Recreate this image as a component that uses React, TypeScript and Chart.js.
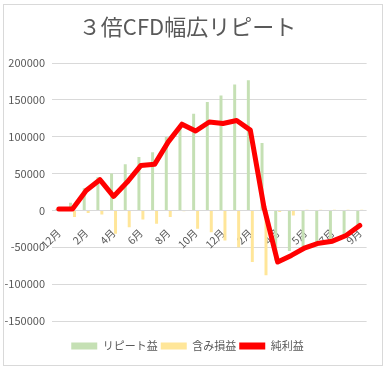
import React, { useEffect, useRef } from 'react';
import { Chart, registerables } from 'chart.js';

Chart.register(...registerables);

const categories = ['12月', '1月', '2月', '3月', '4月', '5月', '6月', '7月', '8月', '9月', '10月', '11月', '12月', '1月', '2月', '3月', '4月', '4月', '5月', '6月', '7月', '8月', '9月'];
const repeatProfit = [2000, 10500, 30000, 45000, 50000, 62500, 72500, 79000, 99600, 114000, 131000, 147000, 156000, 171000, 176600, 91500, -68000, -55000, -51000, -45000, -43000, -35000, -21000];
const unrealizedPL = [0, -9000, -3600, -5400, -31700, -22700, -12300, -18000, -9000, -1000, -25000, -29500, -40800, -50000, -70000, -88000, -2000, -7000, 1000, 1000, 1000, 1000, 1000];
const netProfit = [2000, 2000, 27000, 41700, 19000, 38500, 61000, 62500, 93000, 117000, 107700, 120000, 118000, 122000, 109000, 4000, -70000, -61000, -50700, -44400, -41700, -34000, -20400];
const yMin = -150000;
const yMax = 200000;
const yStep = 50000;

const FONT = '"Noto Sans CJK JP", "Noto Sans", sans-serif';
const TEXT = '#595959';

export default function App() {
  const ref = useRef<HTMLCanvasElement>(null);
  useEffect(() => {
    const chart = new Chart(ref.current as HTMLCanvasElement, {
      type: 'bar',
      data: {
        labels: categories,
        datasets: [
          { type: 'bar', label: 'リピート益', data: repeatProfit, backgroundColor: '#c5e0b4', order: 1, barPercentage: 0.75, categoryPercentage: 0.58 },
          { type: 'bar', label: '含み損益', data: unrealizedPL, backgroundColor: '#ffe699', order: 1, barPercentage: 0.75, categoryPercentage: 0.58 },
          { type: 'line', label: '純利益', data: netProfit, borderColor: '#ff0000', backgroundColor: '#ff0000', borderWidth: 5, pointRadius: 0, tension: 0, order: 0, borderJoinStyle: 'round', borderCapStyle: 'round' } as any,
        ],
      },
      options: {
        responsive: false,
        animation: false,
        layout: { padding: { left: 0, right: 10, top: 0, bottom: 5.5 } },
        plugins: {
          title: {
            display: true,
            text: '３倍CFD幅広リピート',
            color: TEXT,
            font: { family: FONT, size: 22, weight: 'normal', lineHeight: 1.2 },
            padding: { top: 13.5, bottom: 23.1 },
          },
          legend: {
            position: 'bottom',
            title: { display: true, text: '', font: { size: 13, lineHeight: 1 }, padding: { top: 3.5, bottom: 0 } },
            labels: {
              boxWidth: 26,
              boxHeight: 7,
              padding: 3,
              color: TEXT,
              font: { family: FONT, size: 11 },
              sort: (a: any, b: any) => a.datasetIndex - b.datasetIndex,
              generateLabels: (c: any) => {
                const items = (Chart.defaults.plugins.legend.labels as any).generateLabels(c);
                items.forEach((it: any) => { it.lineWidth = 0; it.strokeStyle = it.fillStyle; });
                return items;
              },
            },
          },
          tooltip: { enabled: false },
        },
        scales: {
          x: {
            type: 'category',
            position: { y: 0 } as any,
            offset: true,
            grid: { display: false, drawTicks: false },
            border: { display: false },
            ticks: {
              autoSkip: false,
              minRotation: 45,
              maxRotation: 45,
              padding: 16,
              color: TEXT,
              font: { family: FONT, size: 10.5 },
              callback: (_v: any, i: number) => (i % 2 === 0 ? categories[i] : ''),
            },
          },
          y: {
            type: 'linear',
            position: 'left',
            min: yMin,
            max: yMax,
            grid: { color: '#d9d9d9', lineWidth: 1, drawTicks: false },
            border: { display: false },
            ticks: {
              stepSize: yStep,
              padding: 7,
              color: TEXT,
              font: { family: FONT, size: 11 },
              callback: (v: any) => String(v),
            },
            afterFit: (s: any) => { s.width = 52; },
          },
          y2: {
            type: 'linear',
            position: 'right',
            display: true,
            grid: { display: false, drawTicks: false },
            border: { display: false },
            ticks: { display: false },
            afterFit: (s: any) => { s.width = 5; },
          },
        },
      },
    });
    return () => chart.destroy();
  }, []);

  return (
    <div style={{ position: 'fixed', left: 0, top: 0, width: 385, height: 367, background: '#ffffff' }}>
      <canvas ref={ref} width={385} height={367} style={{ display: 'block' }} />
      <div style={{ position: 'absolute', left: 3, top: 4, width: 380, height: 362, boxSizing: 'border-box', border: '1px solid #d9d9d9', pointerEvents: 'none' }} />
    </div>
  );
}
